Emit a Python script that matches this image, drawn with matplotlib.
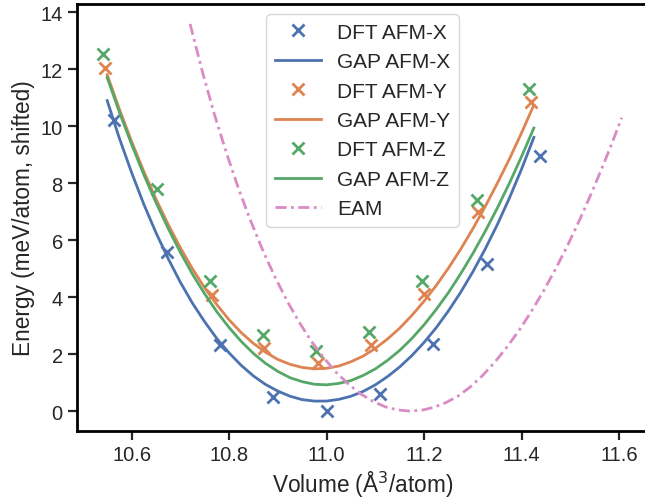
import numpy as np
import matplotlib
matplotlib.use('Agg')
import matplotlib.pyplot as plt

# DFT reference points (volume in A^3/atom, energy in meV/atom)
dft_x_vol = [10.563, 10.672, 10.781, 10.891, 11.000, 11.109, 11.219, 11.329, 11.438]
dft_x_e = [10.20, 5.57, 2.33, 0.50, 0.01, 0.60, 2.35, 5.17, 8.94]

dft_y_vol = [10.546, 10.764, 10.872, 10.983, 11.090, 11.200, 11.310, 11.419]
dft_y_e = [12.03, 4.08, 2.21, 1.69, 2.33, 4.12, 6.98, 10.83]

dft_z_vol = [10.542, 10.653, 10.761, 10.869, 10.978, 11.087, 11.196, 11.308, 11.415]
dft_z_e = [12.53, 7.80, 4.56, 2.67, 2.12, 2.79, 4.58, 7.39, 11.30]

# GAP fitted curves, every 0.025
gap_vol = [10.550, 10.575, 10.600, 10.625, 10.650, 10.675, 10.700, 10.725, 10.750,
           10.775, 10.800, 10.825, 10.850, 10.875, 10.900, 10.925, 10.950, 10.975,
           11.000, 11.025, 11.050, 11.075, 11.100, 11.125, 11.150, 11.175, 11.200,
           11.225, 11.250, 11.275, 11.300, 11.325, 11.350, 11.375, 11.400, 11.425]
gap_x_e = [10.89, 9.57, 8.37, 7.26, 6.26, 5.35, 4.52, 3.78, 3.13,
           2.54, 2.04, 1.60, 1.23, 0.93, 0.70, 0.52, 0.40, 0.35,
           0.35, 0.41, 0.52, 0.69, 0.92, 1.21, 1.55, 1.95, 2.41,
           2.93, 3.52, 4.17, 4.89, 5.68, 6.54, 7.48, 8.50, 9.60]
gap_y_e = [11.80, 10.59, 9.46, 8.41, 7.44, 6.55, 5.73, 4.99, 4.32,
           3.73, 3.20, 2.75, 2.37, 2.06, 1.81, 1.64, 1.53, 1.48,
           1.50, 1.58, 1.73, 1.93, 2.20, 2.53, 2.91, 3.36, 3.86,
           4.41, 5.02, 5.68, 6.40, 7.17, 7.99, 8.85, 9.77, 10.74]
gap_z_e = [11.70, 10.49, 9.36, 8.30, 7.32, 6.41, 5.57, 4.80, 4.11,
           3.48, 2.93, 2.44, 2.02, 1.67, 1.39, 1.17, 1.03, 0.94,
           0.92, 0.97, 1.07, 1.25, 1.48, 1.78, 2.13, 2.55, 3.03,
           3.57, 4.16, 4.82, 5.53, 6.30, 7.12, 8.00, 8.94, 9.93]

# EAM curve
eam_vol = [10.720, 10.745, 10.770, 10.795, 10.820, 10.845, 10.870, 10.895, 10.920,
           10.945, 10.970, 10.995, 11.020, 11.045, 11.070, 11.095, 11.120, 11.145,
           11.170, 11.195, 11.220, 11.245, 11.270, 11.295, 11.320, 11.345, 11.370,
           11.395, 11.420, 11.445, 11.470, 11.495, 11.520, 11.545, 11.570, 11.5875,
           11.605]
eam_e = [13.58, 11.92, 10.40, 9.03, 7.77, 6.64, 5.60, 4.67, 3.83,
         3.08, 2.42, 1.85, 1.35, 0.94, 0.60, 0.34, 0.15, 0.04,
         0.00, 0.03, 0.13, 0.30, 0.53, 0.85, 1.25, 1.72, 2.25,
         2.84, 3.50, 4.22, 5.00, 5.84, 6.75, 7.72, 8.75, 9.50,
         10.29]

BLUE = '#4C72B0'
ORANGE = '#DD8452'
GREEN = '#55A868'
PINK = '#DA8BC3'

plt.rcParams['font.family'] = ['Liberation Sans', 'DejaVu Sans']
plt.rcParams['axes.linewidth'] = 2.0
plt.rcParams['xtick.major.width'] = 1.6
plt.rcParams['ytick.major.width'] = 1.6
plt.rcParams['xtick.major.size'] = 6.5
plt.rcParams['ytick.major.size'] = 6.5
plt.rcParams['xtick.labelsize'] = 14.5
plt.rcParams['ytick.labelsize'] = 14.5
plt.rcParams['text.color'] = '#262626'
plt.rcParams['xtick.color'] = '#262626'
plt.rcParams['ytick.color'] = '#262626'
plt.rcParams['axes.labelcolor'] = '#262626'

fig = plt.figure(figsize=(6.45, 5.02), dpi=100)
ax = fig.add_axes([0.119, 0.140, 0.886, 0.850])

lw = 2.0
ms = 8.0
mew = 2.0
ax.plot(dft_x_vol, dft_x_e, 'x', color=BLUE, ms=ms, mew=mew, label='DFT AFM-X')
ax.plot(gap_vol, gap_x_e, '-', color=BLUE, lw=lw, label='GAP AFM-X')
ax.plot(dft_y_vol, dft_y_e, 'x', color=ORANGE, ms=ms, mew=mew, label='DFT AFM-Y')
ax.plot(gap_vol, gap_y_e, '-', color=ORANGE, lw=lw, label='GAP AFM-Y')
ax.plot(dft_z_vol, dft_z_e, 'x', color=GREEN, ms=ms, mew=mew, label='DFT AFM-Z')
ax.plot(gap_vol, gap_z_e, '-', color=GREEN, lw=lw, label='GAP AFM-Z')
ax.plot(eam_vol, eam_e, '-.', color=PINK, lw=lw, dashes=[4, 1.6, 1, 1.6], label='EAM')

ax.set_xlim(10.4876, 11.6595)
ax.set_ylim(-0.69, 14.28)
ax.set_xticks([10.6, 10.8, 11.0, 11.2, 11.4, 11.6])
ax.set_xticklabels(['10.6', '10.8', '11.0', '11.2', '11.4', '11.6'])
ax.set_yticks(range(0, 15, 2))
ax.set_xlabel('Volume (Å$^3$/atom)', fontsize=16.3)
ax.set_ylabel('Energy (meV/atom, shifted)', fontsize=16.3)

leg = ax.legend(loc='upper center', fontsize=15, frameon=True, fancybox=True,
                handlelength=2.2)
leg.get_frame().set_edgecolor('0.8')

plt.savefig('out.png', dpi=100)
